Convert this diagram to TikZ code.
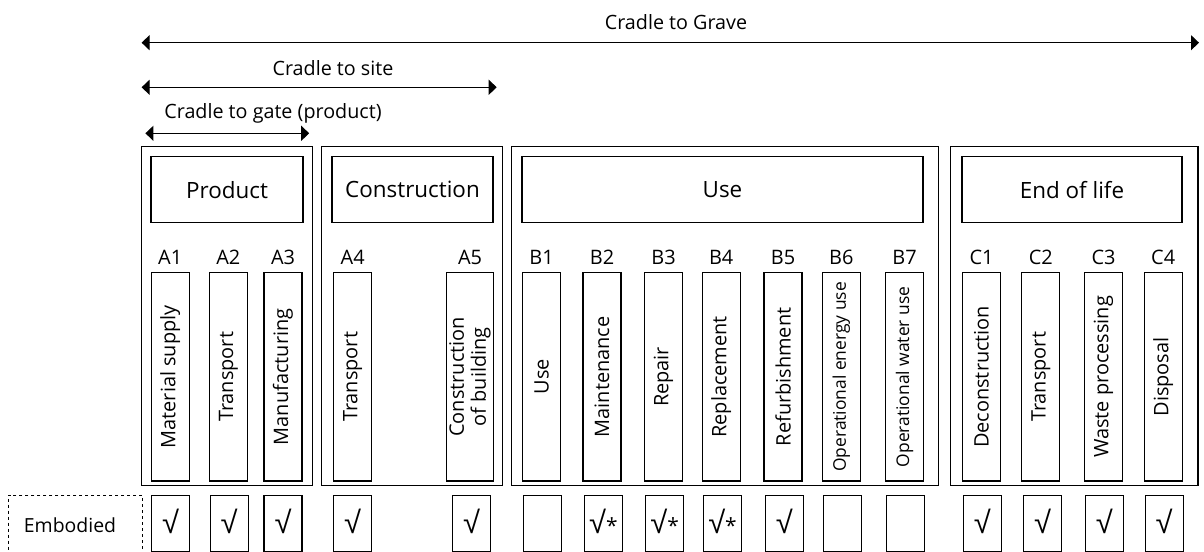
\documentclass[tikz,border=0pt]{standalone}
\usepackage{fontspec}
\setmainfont{Open Sans}
\newfontfamily\symfont{Liberation Sans}
\usetikzlibrary{arrows.meta}

\begin{document}
\begin{tikzpicture}[x=1bp,y=-1bp,
  every node/.style={inner sep=0pt, outer sep=0pt},
  frame/.style={draw, line width=1.2bp},
  stagebox/.style={frame, anchor=north west},
  hdr/.style={frame, anchor=north west, minimum height=66bp, font=\fontsize{22.5}{26}\selectfont},
  sub/.style={frame, rotate=90, minimum width=208.3bp, minimum height=38bp, align=center, font=\fontsize{20}{23}\selectfont},
  subsmall/.style={sub, font=\fontsize{17.5}{20}\selectfont},
  lbl/.style={font=\fontsize{20}{24}\selectfont},
  chk/.style={frame, anchor=north, minimum width=38bp, minimum height=56.3bp},
  tick/.style={font=\fontsize{21}{24}\selectfont},
  span/.style={line width=1.1bp, {Triangle[length=8bp,width=15bp]}-{Triangle[length=8bp,width=15bp]}},
  spantxt/.style={font=\fontsize{19.8}{23}\selectfont}
]
\newcommand\rootmark{{\symfont\fontsize{31}{31}\selectfont\symbol{"221A}}}
\useasboundingbox (0,0) rectangle (1204,552);

% life-cycle scope arrows
\coordinate (grave-l) at (141.6,42.7);
\coordinate (grave-r) at (1199,42.7);
\draw[span] (grave-l) -- (grave-r);
\node[spantxt] (grave-t) at (676,21.7) {Cradle to Grave};

\coordinate (site-l) at (141.6,87.3);
\coordinate (site-r) at (496.7,87.3);
\draw[span] (site-l) -- (site-r);
\node[spantxt] (site-t) at (333,68) {Cradle to site};

\coordinate (gate-l) at (145.4,133.3);
\coordinate (gate-r) at (309.2,133.3);
\draw[span] (gate-l) -- (gate-r);
\node[spantxt] (gate-t) at (273,113) {Cradle to gate (product)};

% stage frames
\node[stagebox, minimum width=171bp, minimum height=339bp] (product) at (141.7,146.7) {};
\node[stagebox, minimum width=181bp, minimum height=339bp] (construction) at (321.7,146.7) {};
\node[stagebox, minimum width=427bp, minimum height=339bp] (use) at (511.7,146.7) {};
\node[stagebox, minimum width=247.3bp, minimum height=339bp] (eol) at (950.7,146.7) {};

% stage headers
\node[hdr, minimum width=152bp] (product-h) at (151,156.7) {Product};
\node[hdr, minimum width=161bp] (construction-h) at (332,156.7) {Construction};
\node[hdr, minimum width=401bp] (use-h) at (522,156.7) {Use};
\node[hdr, minimum width=220bp] (eol-h) at (962,156.7) {End of life};

% module codes
\foreach \n/\x in {A1/170.2, A2/228.3, A3/283, A4/352.7, A5/470,
                   B1/541.5, B2/602, B3/663.5, B4/721.2, B5/783, B6/841.3, B7/904.5,
                   C1/981.5, C2/1040.8, C3/1103.5, C4/1163.2}
  \node[lbl] (code-\n) at (\x,257.7) {\n};

% modules
\node[sub] (m-A1) at (170.2,376.9) {Material supply};
\node[sub] (m-A2) at (228.3,376.9) {Transport};
\node[sub] (m-A3) at (283,376.9) {Manufacturing};
\node[sub] (m-A4) at (352.7,376.9) {Transport};
\node[sub, minimum height=46.6bp, font=\fontsize{20}{22}\selectfont] (m-A5) at (470,376.9) {Construction\\of building};
\node[sub] (m-B1) at (541.5,376.9) {Use};
\node[sub] (m-B2) at (602,376.9) {Maintenance};
\node[sub] (m-B3) at (663.5,376.9) {Repair};
\node[sub] (m-B4) at (721.2,376.9) {Replacement};
\node[sub] (m-B5) at (783,376.9) {Refurbishment};
\node[subsmall] (m-B6) at (841.3,376.9) {Operational energy use};
\node[subsmall] (m-B7) at (904.5,376.9) {Operational water use};
\node[sub] (m-C1) at (981.5,376.9) {Deconstruction};
\node[sub] (m-C2) at (1040.8,376.9) {Transport};
\node[sub] (m-C3) at (1103.5,376.9) {Waste processing};
\node[sub] (m-C4) at (1163.2,376.9) {Disposal};

% embodied row
\node[draw, dashed, line width=1bp, anchor=north west, minimum width=134bp, minimum height=57bp] (emb) at (8.3,495) {};
\node[lbl, font=\fontsize{19.5}{23}\selectfont] (emb-t) at (70,525) {Embodied};

\foreach \n/\x/\t in {A1/170.5/\rootmark, A2/229.2/\rootmark, A3/283/\rootmark,
                      A4/352.5/\rootmark, A5/471.5/\rootmark,
                      B1/542.5/, B2/603.3/\rootmark*, B3/664.7/\rootmark*,
                      B4/722.5/\rootmark*, B5/784.3/\rootmark, B6/842.5/, B7/905.5/,
                      C1/982.3/\rootmark, C2/1042.7/\rootmark, C3/1104.3/\rootmark, C4/1164.2/\rootmark}
{
  \node[chk] (k-\n) at (\x,495.7) {};
  \node[tick] (v-\n) at (\x,521.7) {\t};
}
\end{tikzpicture}
\end{document}
